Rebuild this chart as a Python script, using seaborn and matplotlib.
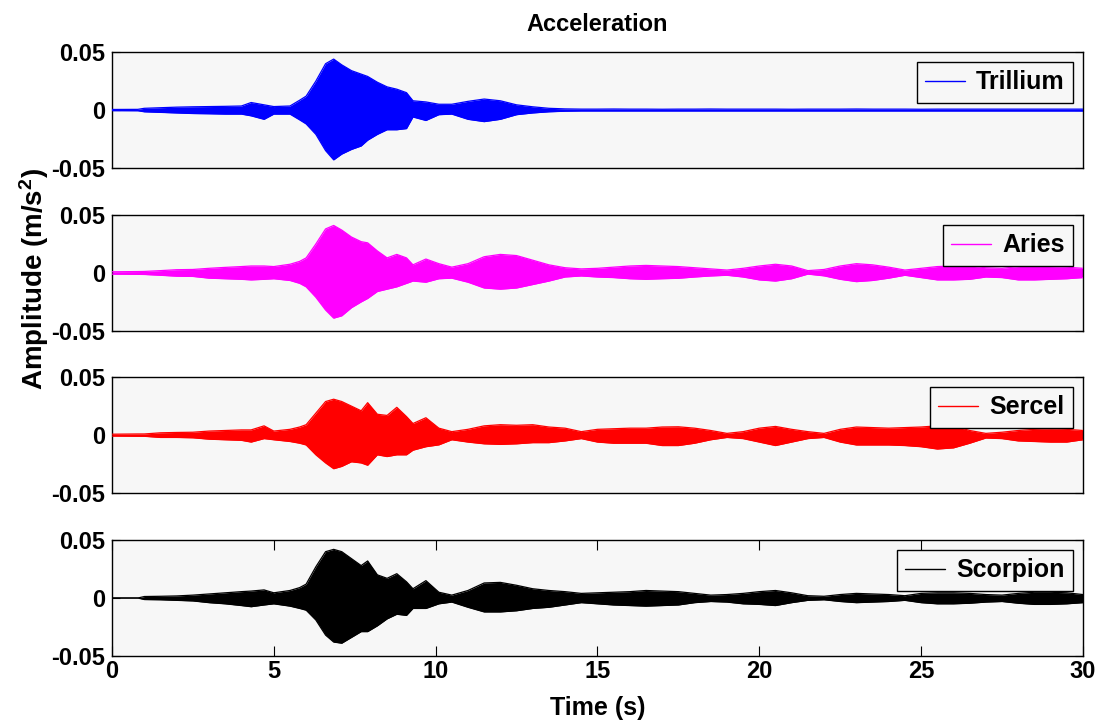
import numpy as np
import pandas as pd
import matplotlib
matplotlib.use("Agg")
import matplotlib.pyplot as plt
import seaborn as sns

# Sample times (s) at which the amplitude envelopes are given
times = [0, 0.8, 1, 1.5, 2, 2.5, 3, 3.5, 4, 4.3, 4.7, 5, 5.5, 5.8, 6, 6.3, 6.6, 6.85,
         7.1, 7.4, 7.7, 7.9, 8.2, 8.5, 8.8, 9.1, 9.3, 9.7, 10.1, 10.5, 11, 11.5, 12,
         12.5, 13, 13.5, 14, 14.5, 15, 15.5, 16, 16.5, 17, 17.5, 18, 18.5, 19, 19.5,
         20, 20.5, 21, 21.5, 22, 22.5, 23, 23.5, 24, 24.5, 25, 25.5, 26, 26.5, 27,
         27.5, 28, 28.5, 29, 29.5, 30]

# Envelopes of the acceleration records, in 1e-3 m/s^2 (upper peak / lower peak magnitude)
trillium_upper = [0.5, 0.6, 1.5, 2.0, 2.5, 2.8, 3.0, 3.2, 3.5, 6.5, 4.5, 3.0, 3.5, 8.5, 12, 25, 40, 44,
                  39, 34, 31, 29, 24, 20, 18, 15, 8, 7, 5, 5, 7.5, 9.5, 8,
                  4.5, 2.8, 1.5, 1.0, 0.8, 0.8, 0.9, 0.8, 0.8, 0.7, 0.8, 0.8, 0.9, 0.8, 0.8,
                  0.8, 0.8, 0.7, 0.8, 0.8, 0.8, 0.9, 0.8, 0.8, 0.8, 0.7, 0.8, 0.8, 0.8, 0.8,
                  0.8, 0.8, 0.8, 0.8, 0.8, 0.8]
trillium_lower = [0.5, 0.6, 1.5, 2.0, 2.5, 3.0, 3.2, 3.5, 3.5, 5, 8, 3.5, 3.5, 8.5, 12, 21, 35, 43,
                  38, 34, 31, 26, 21, 17, 17, 16, 6, 9, 4, 3.5, 8, 10, 8,
                  4, 2.5, 1.5, 1.0, 0.8, 0.8, 0.8, 0.8, 0.8, 0.8, 0.8, 0.8, 0.8, 0.8, 0.8,
                  0.8, 0.8, 0.8, 0.8, 0.8, 0.8, 0.8, 0.8, 0.8, 0.8, 0.8, 0.8, 0.8, 0.8, 0.8,
                  0.8, 0.8, 0.8, 0.8, 0.8, 0.8]

aries_upper = [1.0, 1.2, 1.3, 2, 2.8, 3, 4, 4.8, 5.5, 6, 6, 5.5, 7.5, 10, 13, 25, 38, 41,
               37, 31, 27, 26, 19, 13, 16, 13, 7, 12, 8, 5, 8, 14, 16,
               15, 11, 7, 4.5, 3.5, 4, 5, 6, 6.5, 6, 5.5, 4.5, 3.5, 2.5, 4,
               6, 7.5, 6, 2, 3, 6, 8, 7, 5, 2.5, 4, 5.5, 6, 6, 4.5,
               4, 5.5, 6, 5.5, 5, 4]
aries_lower = [1.0, 1.2, 1.3, 2, 2.8, 3, 4.5, 5, 5.5, 6, 5.5, 5, 6.5, 9, 12, 21, 32, 39,
               37, 30, 25, 22, 16, 14, 12, 9, 7, 8, 5, 4.5, 8, 13, 14,
               13, 10, 7, 3.5, 2.6, 3.5, 4, 5, 5.5, 5, 4.6, 3.5, 2.6, 2, 3.5,
               6, 7, 5, 1, 2.5, 5.5, 7.5, 6.5, 4.5, 2, 4, 6, 6, 5.5, 3.5,
               4, 6, 6, 5.5, 5, 4]

sercel_upper = [0.8, 1, 1, 2, 2.3, 2.5, 3.5, 4, 4.5, 4.5, 8, 3.5, 5, 7, 9, 19, 29, 31,
                29, 25, 21, 28, 18, 17, 24, 16, 10, 15, 6, 3, 5, 8, 9,
                8.5, 9, 7, 6, 3, 5, 5.5, 6, 6, 7, 7.2, 6, 4, 1.5, 3,
                6, 7.5, 5, 3, 1.5, 5, 7, 6.5, 6, 6.5, 7, 8, 8, 4, 1.5,
                2.5, 4, 5, 5.5, 5, 4]
sercel_lower = [0.8, 1, 1, 2, 2, 2.3, 3.5, 4, 4.5, 6, 3, 4, 5.5, 7, 8.5, 17, 24, 29,
                27, 23, 24, 26, 17, 18.5, 17, 17, 13, 10, 8.4, 4, 6, 7.5, 8,
                7.5, 6.5, 6.5, 5, 3, 6, 7, 7, 7, 9, 9, 7, 4, 2, 3,
                6, 9, 6, 3, 2, 6, 8.5, 8.5, 8.5, 9, 10, 12, 11, 7, 2.5,
                3, 5, 5.5, 6, 6, 4]

scorpion_upper = [0, 0, 1.3, 1.5, 1.8, 2.5, 3.5, 4.5, 5.5, 6, 7, 4.5, 6.5, 9, 12, 27, 40, 42,
                  40, 34, 28, 32, 20, 17, 21, 14, 8, 15, 5, 2.5, 6.5, 13, 13.5,
                  11, 8, 6.5, 5.5, 4, 4.5, 5, 5.5, 6.5, 6, 5.5, 4, 2.5, 3, 4,
                  5.5, 6.5, 4.5, 2, 1.5, 3, 4, 3.5, 3, 2, 4, 4.5, 4.5, 4, 3,
                  2.5, 4, 5, 5, 4.5, 3]
scorpion_lower = [0, 0, 1.3, 1.5, 2, 2.5, 4, 5, 6.5, 7.5, 6, 5, 7, 9, 10.5, 19, 32, 38,
                  39, 34, 29, 29, 24, 18, 14, 15, 9, 9, 5, 3.5, 8, 12, 12,
                  11, 9, 8, 6, 4, 5, 6, 6.5, 7, 6.5, 6, 4, 3, 3.5, 5,
                  5.5, 6.5, 4, 2, 1.5, 3, 4, 3.5, 3, 2, 4, 5, 5, 4.5, 3.5,
                  3, 4.5, 5.5, 5.5, 5, 4]

sensor_names = ["Trillium", "Aries", "Sercel", "Scorpion"]
sensor_colors = ["#0000ff", "#ff00ff", "#ff0000", "#000000"]
x_ticks = [0, 5, 10, 15, 20, 25, 30]
y_ticks = [-0.05, 0, 0.05]
y_tick_labels = ["-0.05", "0", "0.05"]

sns.set_theme(style="ticks")
plt.rcParams["font.family"] = ["Liberation Sans", "DejaVu Sans"]
plt.rcParams["font.weight"] = "bold"
plt.rcParams["text.color"] = "black"
plt.rcParams["axes.labelcolor"] = "black"
plt.rcParams["xtick.color"] = "black"
plt.rcParams["ytick.color"] = "black"
plt.rcParams["mathtext.fontset"] = "custom"
plt.rcParams["mathtext.rm"] = "Liberation Sans:bold"
plt.rcParams["mathtext.it"] = "Liberation Sans:bold"
plt.rcParams["mathtext.bf"] = "Liberation Sans:bold"

fig = plt.figure(figsize=(11.02, 7.24), dpi=100)
fig.patch.set_facecolor("white")

left, width, height = 0.1016, 0.8811, 0.160
bottoms = [0.768, 0.543, 0.319, 0.094]

uppers = [trillium_upper, aries_upper, sercel_upper, scorpion_upper]
lowers = [trillium_lower, aries_lower, sercel_lower, scorpion_lower]

axes = []
for i, name in enumerate(sensor_names):
    ax = fig.add_axes([left, bottoms[i], width, height])
    ax.set_facecolor("#f7f7f7")
    col = sensor_colors[i]
    df = pd.DataFrame({
        "t": times,
        "hi": np.array(uppers[i]) * 1e-3,
        "lo": -np.array(lowers[i]) * 1e-3,
    })
    ax.fill_between(df["t"], df["lo"], df["hi"], color=col, lw=0, zorder=2)
    sns.lineplot(data=df, x="t", y="hi", ax=ax, color=col, lw=0.9, label=name,
                 estimator=None, sort=False, zorder=3)
    sns.lineplot(data=df, x="t", y="lo", ax=ax, color=col, lw=0.9,
                 estimator=None, sort=False, zorder=3, legend=False)

    ax.set_xlim(0, 30)
    ax.set_ylim(-0.05, 0.05)
    ax.set_yticks(y_ticks)
    ax.set_yticklabels(y_tick_labels)
    ax.set_xlabel("")
    ax.set_ylabel("")
    for sp in ax.spines.values():
        sp.set_visible(True)
        sp.set_color("black")
        sp.set_linewidth(1.0)
    ax.tick_params(axis="y", direction="in", left=True, right=True, length=6,
                   width=0.8, labelsize=17, pad=5, colors="black")
    if i < 3:
        ax.tick_params(axis="x", bottom=False, top=False, labelbottom=False)
    else:
        ax.set_xticks(x_ticks)
        ax.tick_params(axis="x", direction="in", bottom=True, top=True, length=7,
                       width=0.8, labelsize=17, pad=3, colors="black")
    for lbl in ax.get_xticklabels() + ax.get_yticklabels():
        lbl.set_fontweight("bold")

    leg = ax.legend(loc="upper right", frameon=True, fancybox=False,
                    edgecolor="black", facecolor="#f7f7f7", framealpha=1,
                    handlelength=1.6, handletextpad=0.45, borderpad=0.33,
                    borderaxespad=0.4, prop={"weight": "bold", "size": 18})
    leg.get_frame().set_linewidth(1.0)
    for txt in leg.get_texts():
        txt.set_color("black")
    for h in leg.get_lines():
        h.set_linewidth(1.0)
    axes.append(ax)

axes[0].set_title("Acceleration", fontsize=17, fontweight="bold", pad=15,
                  color="black")
axes[1].set_ylabel("Amplitude (m/s$^{2}$)", fontsize=20, fontweight="bold",
                   color="black")
axes[1].yaxis.set_label_coords(-0.063, 0.45)
axes[3].set_xlabel("Time (s)", fontsize=18, fontweight="bold", labelpad=9,
                   color="black")

fig.savefig("out.png", dpi=100)
